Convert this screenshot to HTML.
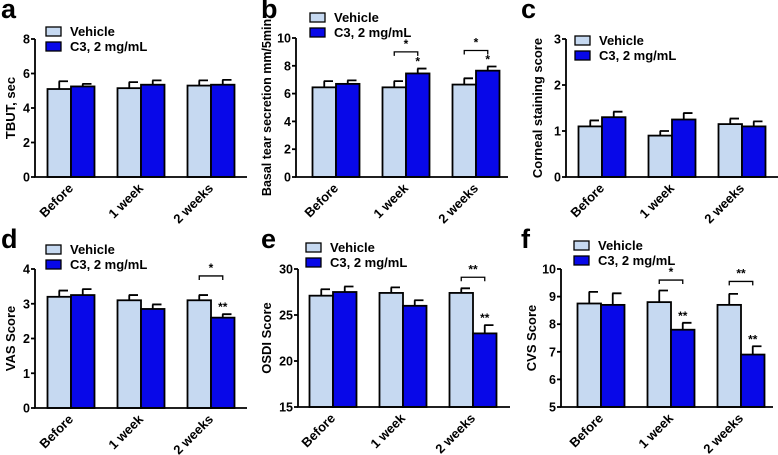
<!DOCTYPE html>
<html><head><meta charset="utf-8"><style>
body{margin:0;background:#fff}
svg{display:block;font-family:"Liberation Sans",Arial,sans-serif;font-weight:bold}
</style></head><body>
<svg id="fig" width="778" height="455" viewBox="0 0 778 455"></svg>
<script>
const categories=["Before","1 week","2 weeks"];
const aVeh=[5.1,5.15,5.3], aVehErr=[0.45,0.35,0.3], aC3=[5.25,5.35,5.35], aC3Err=[0.15,0.25,0.28];
const bVeh=[6.45,6.45,6.65], bVehErr=[0.45,0.45,0.45], bC3=[6.7,7.45,7.65], bC3Err=[0.25,0.35,0.3];
const cVeh=[1.1,0.9,1.15], cVehErr=[0.13,0.1,0.12], cC3=[1.3,1.25,1.1], cC3Err=[0.12,0.14,0.11];
const dVeh=[3.2,3.1,3.1], dVehErr=[0.18,0.15,0.15], dC3=[3.25,2.85,2.6], dC3Err=[0.17,0.13,0.1];
const eVeh=[27.1,27.4,27.4], eVehErr=[0.7,0.6,0.5], eC3=[27.5,26,23], eC3Err=[0.6,0.6,0.9];
const fVeh=[8.75,8.8,8.7], fVehErr=[0.42,0.42,0.4], fC3=[8.7,7.8,6.9], fC3Err=[0.42,0.25,0.3];
const aTicks=[0,2,4,6,8], bTicks=[0,2,4,6,8,10], cTicks=[0,1,2,3], dTicks=[0,1,2,3,4], eTicks=[15,20,25,30], fTicks=[5,6,7,8,9,10];
const bStars=["","*","*"], dStars=["","","**"], eStars=["","","**"], fStars=["","**","**"];
const bBrackets=[null,"*","*"], dBrackets=[null,null,"*"], eBrackets=[null,null,"**"], fBrackets=[null,"*","**"];
const bBracketY=[0,9.0,9.1], dBracketY=[0,0,3.8], eBracketY=[0,0,29.1], fBracketY=[0,9.6,9.55];

const NS="http://www.w3.org/2000/svg", svg=document.getElementById('fig');
function mk(tag,attrs,parent,text){const e=document.createElementNS(NS,tag);for(const k in attrs)e.setAttribute(k,attrs[k]);if(text!==undefined)e.textContent=text;(parent||svg).appendChild(e);return e;}

function panel(p){
  const g=mk('g',{});
  
  
  const ymin=p.ticks[0], ymax=p.ticks[p.ticks.length-1];
  const Y=v=>p.y0-(v-ymin)/(ymax-ymin)*(p.y0-p.y1);
  const X=i=>p.gc0+i*70;
  const bw=23.5;
  const lt=mk('text',{x:p.lx,y:p.ly,'font-size':27},g,p.letter);
  
  
  categories.forEach((c,i)=>{
    [[p.veh,p.vehErr,'#c6d9f1',-bw],[p.c3,p.c3Err,'#0808e8',0]].forEach((s,j)=>{
      const x=X(i)+s[3], top=Y(s[0][i]), te=Y(s[0][i]+s[1][i]);
      const r=mk('rect',{x:x,y:top,width:bw,height:p.y0-top,fill:s[2],stroke:'#000','stroke-width':1.8},g);
      
      
      const eb=mk('path',{d:`M${x+bw/2},${top}V${te}M${x+bw/2-0.5},${te}H${x+bw-3}`,stroke:'#000','stroke-width':1.8,fill:'none'},g);
      
      
      if(j&&p.stars&&p.stars[i]){const st=mk('text',{x:x+bw/2,y:te-3,'text-anchor':'middle','font-size':12},g,p.stars[i]);
        }
    });
    if(p.br&&p.br[i]){const by=Y(p.brY[i]);
      const b=mk('path',{d:`M${X(i)-bw/2},${by+4}V${by}H${X(i)+bw/2}V${by+4}`,stroke:'#000','stroke-width':1.3,fill:'none'},g);
      
      mk('text',{x:X(i),y:by-4,'text-anchor':'middle','font-size':12},g,p.br[i]);}
    const tx=mk('text',{transform:`translate(${X(i)+3},${p.y0+12}) rotate(-45)`,'text-anchor':'end','font-size':13},g,c);
    
  });
  const ax=mk('path',{d:`M${p.x0},${p.y1}V${p.y0}H${p.x0+212}`,stroke:'#000','stroke-width':1.8,fill:'none'},g);
  
  p.ticks.forEach(t=>{
    mk('path',{d:`M${p.x0-4},${Y(t)}H${p.x0}`,stroke:'#000','stroke-width':1.8},g);
    const tl=mk('text',{x:p.x0-5,y:Y(t)+4.5,'text-anchor':'end','font-size':12.5},g,t);
    
  });
  const yt=mk('text',{transform:`translate(${p.x0-p.ytOff},${(p.y0+p.y1)/2}) rotate(-90)`,'text-anchor':'middle','font-size':p.ytSize||13},g,p.ytitle);
  
  [['Vehicle','#c6d9f1'],['C3, 2 mg/mL','#0808e8']].forEach((l,k)=>{
    const r=mk('rect',{x:p.legx,y:p.legy+k*15,width:15,height:9,fill:l[1],stroke:'#000','stroke-width':1.3},g);
    
    const t=mk('text',{x:p.legx+24,y:p.legy+k*15+9,'font-size':13},g,l[0]);
    
  });
}
panel({letter:'a',lx:1,ly:18,x0:35,y0:177,y1:39,gc0:71,ticks:aTicks,veh:aVeh,vehErr:aVehErr,c3:aC3,c3Err:aC3Err,ytitle:'TBUT, sec',ytOff:20,legx:46,legy:27});
panel({letter:'b',lx:261,ly:18,x0:296,y0:177,y1:38,gc0:336,ticks:bTicks,veh:bVeh,vehErr:bVehErr,c3:bC3,c3Err:bC3Err,ytitle:'Basal tear secretion mm/5min',ytSize:12.5,ytOff:25,legx:310,legy:13,stars:bStars,br:bBrackets,brY:bBracketY});
panel({letter:'c',lx:521,ly:18,x0:566,y0:177,y1:39,gc0:602,ticks:cTicks,veh:cVeh,vehErr:cVehErr,c3:cC3,c3Err:cC3Err,ytitle:'Corneal staining score',ytOff:24,legx:575,legy:36});
panel({letter:'d',lx:1,ly:248,x0:35,y0:408,y1:269,gc0:71,ticks:dTicks,veh:dVeh,vehErr:dVehErr,c3:dC3,c3Err:dC3Err,ytitle:'VAS Score',ytOff:20,legx:46,legy:245,stars:dStars,br:dBrackets,brY:dBracketY});
panel({letter:'e',lx:261,ly:248,x0:298,y0:407,y1:269,gc0:333,ticks:eTicks,veh:eVeh,vehErr:eVehErr,c3:eC3,c3Err:eC3Err,ytitle:'OSDI Score',ytOff:27,legx:306,legy:243,stars:eStars,br:eBrackets,brY:eBracketY});
panel({letter:'f',lx:521,ly:248,x0:561,y0:407,y1:269,gc0:601,ticks:fTicks,veh:fVeh,vehErr:fVehErr,c3:fC3,c3Err:fC3Err,ytitle:'CVS Score',ytOff:25,legx:574,legy:241,stars:fStars,br:fBrackets,brY:fBracketY});
</script>
</body></html>
